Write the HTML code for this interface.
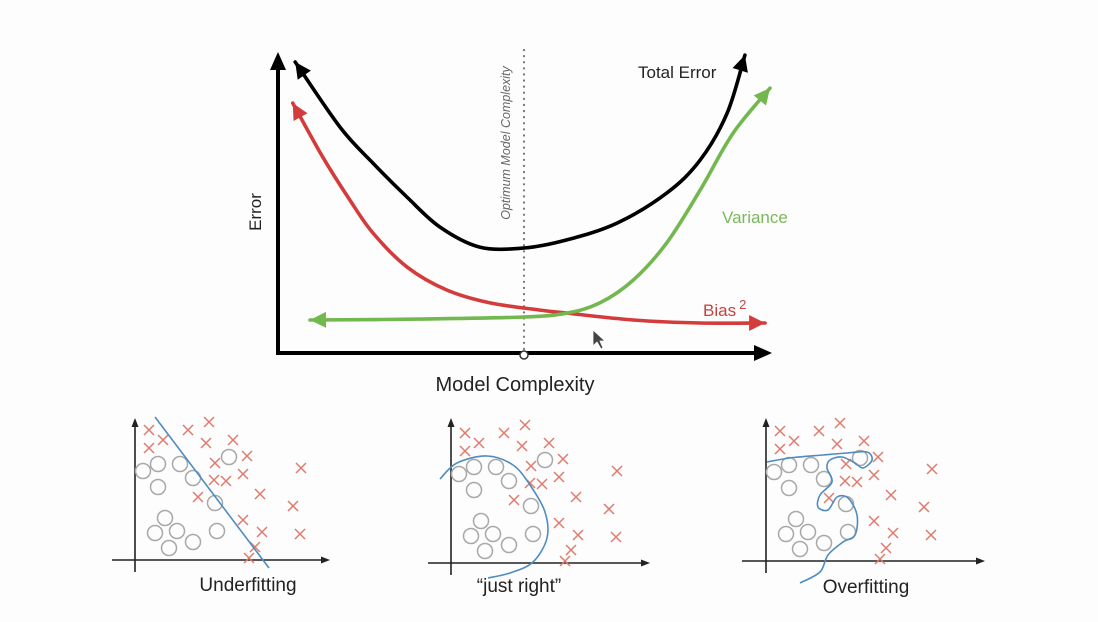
<!DOCTYPE html>
<html><head><meta charset="utf-8"><style>
html,body{margin:0;padding:0;background:#fdfdfd;}
svg{display:block;font-family:"Liberation Sans",sans-serif;}
</style></head><body>
<svg id="s" width="1098" height="622" viewBox="0 0 1098 622">
<rect width="1098" height="622" fill="#fdfdfd"/>
<g id="topchart"></g>
<g id="bottom"></g>
</svg>
<script>
// Top chart data (complexity 0..100, error 0..100)
const totalC=[3.5,12.6,19.3,26.2,32.9,41,50,58.7,68.9,79,85.8,91.3,94.9];
const totalE=[97,75.3,63.3,52,42,35.3,35,37.7,43.3,53.3,64.3,80,99.3];
const biasC=[3,9.1,14.6,19.3,26.2,34.3,43.1,53.3,58.7,72.2,85.8,99];
const biasE=[83.3,65.3,51,40,28.7,21,16.7,14.3,13.3,11,10,10];
const varC=[6.5,28.9,50,58.7,65.4,72.2,79,85.8,92.5,100];
const varE=[11,11.3,12,13.3,16.7,24.3,36.7,54.3,73.3,88.3];
const optimumC=[50];
// Bottom panel data (offsets from each panel origin)
const circX=[8,23,45,23,58,94,80,30,20,42,34,58,82];
const circY=[89,96,96,73,82,103,57,42,27,29,12,18,29];
const crossX=[14,28,14,53,74,71,98,112,80,108,79,91,63,125,166,158,108,127,165,120,114];
const crossY=[130,120,112,130,138,117,120,104,97,86,80,79,63,66,92,54,40,28,26,13,2];
const underX=[20,134];const underY=[143,-8];
const rightX=[-11,6,36,62,79,94,96,82,59,37];
const rightY=[84,100,107,98,78,51,25,1,-10,-15];
const overX=[1,24,57,81,101,106,97,89,76,64,61,66,54,52,62,71,82,91,89,77,62,54,34];
const overY=[99,103,106,108,109,101,93,98,104,101,93,79,66,54,51,64,63,46,26,19,6,-11,-22];

const NS="http://www.w3.org/2000/svg";
const topG=document.getElementById('topchart'),bot=document.getElementById('bottom');
const X=c=>278+c*4.92, Y=e=>353-e*3;
function mk(t,a,p){const e=document.createElementNS(NS,t);for(const k in a)e.setAttribute(k,a[k]);p.appendChild(e);return e;}
function smooth(pts){let d=`M${pts[0][0]},${pts[0][1]}`;for(let i=0;i<pts.length-1;i++){const p0=pts[i-1]||pts[i],p1=pts[i],p2=pts[i+1],p3=pts[i+2]||p2;d+=` C${p1[0]+(p2[0]-p0[0])/6},${p1[1]+(p2[1]-p0[1])/6} ${p2[0]-(p3[0]-p1[0])/6},${p2[1]-(p3[1]-p1[1])/6} ${p2[0]},${p2[1]}`;}return d;}
function head(tip,from,col,L,W,p){const dx=tip[0]-from[0],dy=tip[1]-from[1],n=Math.hypot(dx,dy),ux=dx/n,uy=dy/n;const bx=tip[0]-ux*L,by=tip[1]-uy*L;return mk('polygon',{points:`${tip[0]},${tip[1]} ${bx-uy*W},${by+ux*W} ${bx+uy*W},${by-ux*W}`,fill:col},p);}
function curve(cs,es,col,name){const pts=cs.map((c,i)=>[X(c),Y(es[i])]);
 const path=mk('path',{d:smooth(pts),fill:'none',stroke:col,'stroke-width':3.6,'stroke-linecap':'round'},topG);
 
 
 const h1=head(pts[0],pts[1],col,16,8,topG);
 
 
 const n=pts.length;const h2=head(pts[n-1],pts[n-2],col,16,8,topG);
 
 }
let a=mk('line',{x1:278,y1:353,x2:278,y2:66,stroke:'#000','stroke-width':4},topG);


a=mk('polygon',{points:'278,52 270,70 286,70',fill:'#000'},topG);


a=mk('line',{x1:276,y1:353,x2:756,y2:353,stroke:'#000','stroke-width':4},topG);


a=mk('polygon',{points:'772,353 754,345 754,361',fill:'#000'},topG);


a=mk('line',{x1:X(optimumC[0]),y1:50,x2:X(optimumC[0]),y2:350,stroke:'#777','stroke-width':2.2,'stroke-dasharray':'0.1 6','stroke-linecap':'round'},topG);


a=mk('circle',{cx:X(optimumC[0]),cy:355,r:4,fill:'#fff',stroke:'#333','stroke-width':1.5},topG);


curve(totalC,totalE,'#000','total-error');
curve(biasC,biasE,'#d43c3c','bias');
curve(varC,varE,'#72b84f','variance');
function txt(x,y,s,attrs,name){const t=mk('text',Object.assign({x:x,y:y},attrs),topG);t.textContent=s;
 
 
 return t;}
txt(638,78,'Total Error',{'font-size':17,fill:'#222'},'total-error-label');
txt(722,223,'Variance',{'font-size':17,fill:'#7ab85a'},'variance-label');
const b=txt(703,316,'Bias',{'font-size':17,fill:'#c94040'},'bias-label');
const sp=document.createElementNS(NS,'tspan');sp.setAttribute('dy','-7');sp.setAttribute('dx','3');sp.setAttribute('font-size','13');sp.textContent='2';b.appendChild(sp);
txt(515,391,'Model Complexity',{'font-size':20,fill:'#222','text-anchor':'middle'},'x-axis-title');
txt(0,0,'Error',{'font-size':17,fill:'#222','text-anchor':'middle',transform:'translate(261,212) rotate(-90)'},'y-axis-title');
txt(0,0,'Optimum Model Complexity',{'font-size':12.5,fill:'#666','font-style':'italic','text-anchor':'middle',transform:'translate(510,143) rotate(-90)'},'optimum-label');
a=mk('polygon',{points:'593,330 593,346 597,342 601,349 603,348 600,341 605,341',fill:'#444',stroke:'#fff','stroke-width':0.8},topG);



const panels=[{ox:135,oy:560,hx1:112,hx2:330,label:'Underfitting',lx:248,ly:591,cx:underX,cy:underY,name:'underfitting'},
 {ox:451,oy:563,hx1:428,hx2:650,label:'\u201cjust right\u201d',lx:519,ly:592,cx:rightX,cy:rightY,name:'just-right'},
 {ox:766,oy:561,hx1:742,hx2:985,label:'Overfitting',lx:866,ly:593,cx:overX,cy:overY,name:'overfitting'}];
panels.forEach(P=>{
 const g=mk('g',{},bot);
 
 
 let e=mk('line',{x1:P.ox,y1:P.oy+12,x2:P.ox,y2:424,stroke:'#222','stroke-width':1.6},g);
 
 
 e=mk('polygon',{points:`${P.ox},418 ${P.ox-3.5},427 ${P.ox+3.5},427`,fill:'#222'},g);
 
 
 e=mk('line',{x1:P.hx1,y1:P.oy,x2:P.hx2-6,y2:P.oy,stroke:'#222','stroke-width':1.6},g);
 
 
 e=mk('polygon',{points:`${P.hx2},${P.oy} ${P.hx2-9},${P.oy-3.5} ${P.hx2-9},${P.oy+3.5}`,fill:'#222'},g);
 
 
 circX.forEach((cx,i)=>{const c=mk('circle',{cx:P.ox+cx,cy:P.oy-circY[i],r:7.5,fill:'none',stroke:'#a8a8a8','stroke-width':1.5},g);
  
  });
 crossX.forEach((cx,i)=>{const x=P.ox+cx,y=P.oy-crossY[i];const c=mk('path',{d:`M${x-5},${y-5}L${x+5},${y+5}M${x+5},${y-5}L${x-5},${y+5}`,stroke:'#e07a6c','stroke-width':1.5,fill:'none'},g);
  
  });
 const pts=P.cx.map((x,i)=>[P.ox+x,P.oy-P.cy[i]]);
 e=mk('path',{d:pts.length===2?`M${pts[0][0]},${pts[0][1]}L${pts[1][0]},${pts[1][1]}`:smooth(pts),fill:'none',stroke:'#4f8cc0','stroke-width':1.6},g);
 
 
 e=mk('text',{x:P.lx,y:P.ly,'font-size':19,fill:'#222','text-anchor':'middle'},g);e.textContent=P.label;
 
 
});
</script>
</body></html>
